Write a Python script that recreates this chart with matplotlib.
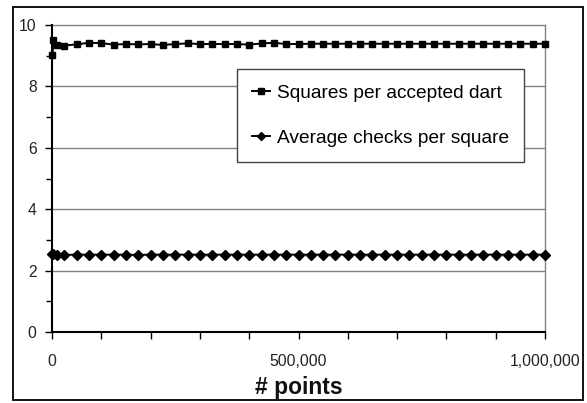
import matplotlib
matplotlib.use("Agg")
import matplotlib.pyplot as plt
from matplotlib.patches import Rectangle
from matplotlib.ticker import MultipleLocator

plt.rcParams['font.family'] = ['Liberation Sans', 'DejaVu Sans']

# number of points sampled
n_points = [1000, 3000, 10000] + [25000 * k for k in range(1, 41)]

squares_per_dart = [
    9.03, 9.51, 9.35,
    9.33, 9.37, 9.42, 9.41, 9.36, 9.38, 9.37, 9.38, 9.35, 9.38,
    9.40, 9.38, 9.38, 9.38, 9.38, 9.36, 9.40, 9.42, 9.38, 9.38,
    9.39, 9.39, 9.39, 9.39, 9.39, 9.39, 9.39, 9.39, 9.39, 9.39,
    9.39, 9.39, 9.39, 9.39, 9.39, 9.39, 9.39, 9.39, 9.39, 9.39,
]
checks_per_square = [
    2.54, 2.53, 2.52,
    2.51, 2.52, 2.52, 2.52, 2.52, 2.52, 2.51, 2.52, 2.52, 2.52,
    2.52, 2.52, 2.52, 2.52, 2.52, 2.52, 2.52, 2.52, 2.52, 2.52,
    2.52, 2.52, 2.52, 2.52, 2.52, 2.52, 2.52, 2.52, 2.52, 2.52,
    2.52, 2.52, 2.52, 2.52, 2.52, 2.52, 2.52, 2.52, 2.52, 2.52,
]

x_tick_values = [0, 500000, 1000000]
x_tick_labels = ["0", "500,000", "1,000,000"]

fig = plt.figure(figsize=(5.87, 4.03), dpi=100)
ax = fig.add_axes([52 / 587, 1 - 332 / 403, (545 - 52) / 587, (332 - 25) / 403])

# gridlines on even y values
for yv in [2, 4, 6, 8]:
    ax.axhline(yv, color="#808080", lw=1.0, zorder=1)

ax.plot(n_points, squares_per_dart, color="black", lw=1.4, marker="s",
        markersize=4.8, label="Squares per accepted dart", zorder=3, clip_on=False)
ax.plot(n_points, checks_per_square, color="black", lw=1.4, marker="D",
        markersize=4.8, label="Average checks per square", zorder=3, clip_on=False)

ax.set_xlim(0, 1000000)
ax.set_ylim(0, 10)

ax.yaxis.set_major_locator(MultipleLocator(2))
ax.yaxis.set_minor_locator(MultipleLocator(1))
ax.set_xticks(range(0, 1000001, 100000))
ax.set_xticklabels([x_tick_labels[x_tick_values.index(v)] if v in x_tick_values else ""
                    for v in range(0, 1000001, 100000)])

ax.tick_params(axis="both", which="both", direction="out", length=5, width=1.0,
               color="black", labelsize=11.3, labelcolor="#222222")
ax.tick_params(axis="y", which="minor", length=4)
ax.tick_params(axis="x", pad=11)
ax.tick_params(axis="y", pad=6)

for side in ["left", "bottom"]:
    ax.spines[side].set_color("black")
    ax.spines[side].set_linewidth(1.5)
    ax.spines[side].set_zorder(4)
for side in ["top", "right"]:
    ax.spines[side].set_color("#808080")
    ax.spines[side].set_linewidth(1.0)

ax.set_xlabel("# points", fontsize=16.5, fontweight="bold", labelpad=5, color="#111111")

leg = ax.legend(loc="upper left", bbox_to_anchor=((237 - 52) / 493, (332 - 69) / 307),
                frameon=True, fancybox=False, edgecolor="#444444", framealpha=1,
                fontsize=13.8, handlelength=0.9, handletextpad=0.37,
                labelspacing=1.45, borderpad=0.8, borderaxespad=0)
leg.get_frame().set_linewidth(1.0)
for h in leg.legend_handles:
    h.set_markersize(4)

# outer chart border
fig.patches.append(Rectangle((13 / 587, 1 - 400 / 403), (583 - 13) / 587, (400 - 7) / 403,
                             transform=fig.transFigure, fill=False,
                             edgecolor="black", linewidth=1.3))

fig.savefig("out.png", dpi=100)
